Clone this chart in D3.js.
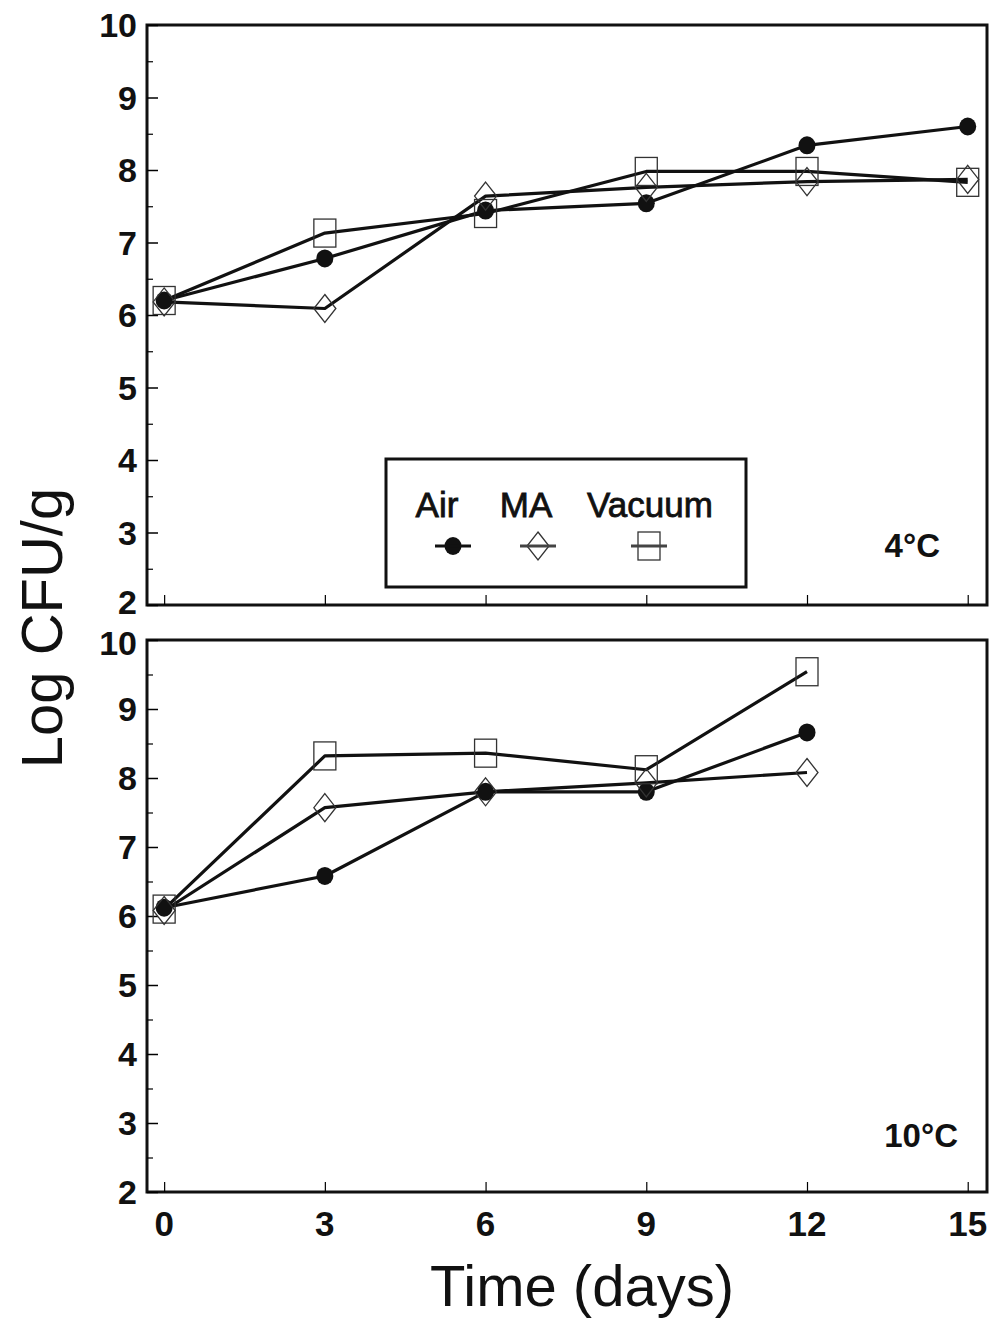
<!DOCTYPE html>
<html>
  <head>
    <meta charset="utf-8">
    <title>Log CFU/g over storage time</title>
    <style type="text/css">
      body { margin: 0; background: #fff; }
      svg text { font-family: "Liberation Sans", Arial, sans-serif; fill: #111; }
    </style>
  </head>
  <body>
    <div id="chart"></div>
    <script src="https://d3js.org/d3.v7.min.js"></script>
    <script>

    // storage days
    var days = [0, 3, 6, 9, 12, 15];
    var xTicks = [0, 3, 6, 9, 12, 15];
    var yTicks = [2, 3, 4, 5, 6, 7, 8, 9, 10];

    // 4 C panel
    var air4 = [6.20, 6.78, 7.44, 7.54, 8.34, 8.60];
    var ma4 = [6.18, 6.09, 7.64, 7.76, 7.84, 7.87];
    var vac4 = [6.20, 7.13, 7.40, 7.98, 7.98, 7.83];

    // 10 C panel (no day 15)
    var air10 = [6.12, 6.58, 7.80, 7.80, 8.66];
    var ma10 = [6.08, 7.57, 7.80, 7.93, 8.08];
    var vac10 = [6.10, 8.32, 8.36, 8.12, 9.54];

    var seriesNames = ["Air", "MA", "Vacuum"];
    var panelLabels = ["4°C", "10°C"];

    var width = 992, height = 1320;
    var left = 147, right = 987;

    var svg = d3.select("#chart").append("svg")
      .attr("width", width)
      .attr("height", height);

    var x = d3.scaleLinear().domain([-0.32, 15.36]).range([left, right]);

    var panels = [
      { top: 25, bottom: 605, label: panelLabels[0], labelX: 940, labelY: 545,
        series: [air4, ma4, vac4], showX: false, nudge: { 2: -3 } },
      { top: 640, bottom: 1192, label: panelLabels[1], labelX: 958, labelY: 1135,
        series: [air10, ma10, vac10], showX: true, nudge: { 10: 3 } }
    ];

    function drawMarker(g, type, cx, cy) {
      if (type == 0) {
        g.append("ellipse").attr("cx", cx).attr("cy", cy)
          .attr("rx", 8.5).attr("ry", 9)
          .style("fill", "#111");
      } else if (type == 1) {
        g.append("path")
          .attr("d", "M" + cx + "," + (cy - 14) + "L" + (cx + 11) + "," + cy +
                     "L" + cx + "," + (cy + 14) + "L" + (cx - 11) + "," + cy + "Z")
          .style("fill", "none").style("stroke", "#333").style("stroke-width", 1.3);
      } else {
        g.append("rect").attr("x", cx - 11).attr("y", cy - 14)
          .attr("width", 22).attr("height", 28)
          .style("fill", "none").style("stroke", "#333").style("stroke-width", 1.3);
      }
    }

    panels.forEach(function(p) {
      var y = d3.scaleLinear().domain([2, 10]).range([p.bottom, p.top]);
      var g = svg.append("g");

      // frame
      g.append("rect")
        .attr("x", left).attr("y", p.top)
        .attr("width", right - left).attr("height", p.bottom - p.top)
        .style("fill", "none").style("stroke", "#111").style("stroke-width", 3);

      // y axis, ticks pointing inward
      var yAxis = d3.axisRight(y).tickValues(yTicks).tickSize(11).tickFormat("");
      g.append("g").attr("transform", "translate(" + left + ",0)").call(yAxis)
        .call(function(s) { s.select(".domain").remove(); s.selectAll("line").style("stroke-width", 1.5); });
      var yMinor = d3.axisRight(y).tickValues(d3.range(2.5, 10, 1)).tickSize(6).tickFormat("");
      g.append("g").attr("transform", "translate(" + left + ",0)").call(yMinor)
        .call(function(s) { s.select(".domain").remove(); s.selectAll("line").style("stroke-width", 1.2); });

      g.selectAll(".ylab").data(yTicks).enter().append("text")
        .attr("x", 137).attr("y", function(d) { return y(d) + (p.nudge[d] || 0); })
        .attr("dy", "0.36em")
        .attr("text-anchor", "end")
        .style("font-size", "34px").style("font-weight", "bold")
        .text(function(d) { return d; });

      // x axis, ticks pointing up
      var xAxis = d3.axisTop(x).tickValues(xTicks).tickSize(10).tickFormat("");
      g.append("g").attr("transform", "translate(0," + p.bottom + ")").call(xAxis)
        .call(function(s) { s.select(".domain").remove(); s.selectAll("line").style("stroke-width", 1.2); });

      if (p.showX) {
        g.selectAll(".xlab").data(xTicks).enter().append("text")
          .attr("x", function(d) { return x(d); })
          .attr("y", 1236)
          .attr("text-anchor", "middle")
          .style("font-size", "35px").style("font-weight", "bold")
          .text(function(d) { return d; });
      }

      var line = d3.line()
        .x(function(d, i) { return x(days[i]); })
        .y(function(d) { return y(d); });

      p.series.forEach(function(vals, k) {
        g.append("path").datum(vals)
          .attr("d", line)
          .style("fill", "none").style("stroke", "#111")
          .style("stroke-width", 3.2).style("stroke-linejoin", "round");
      });
      p.series.forEach(function(vals, k) {
        vals.forEach(function(v, i) { drawMarker(g, k, x(days[i]), y(v)); });
      });

      g.append("text")
        .attr("x", p.labelX).attr("y", p.labelY).attr("dy", "0.36em")
        .attr("text-anchor", "end")
        .style("font-size", "33px").style("font-weight", "bold")
        .text(p.label);
    });

    // legend in top panel
    var leg = svg.append("g");
    leg.append("rect").attr("x", 386).attr("y", 459).attr("width", 360).attr("height", 128)
      .style("fill", "#fff").style("stroke", "#111").style("stroke-width", 3);
    var legX = [437, 526, 650];
    var symX = [453, 538, 649];
    seriesNames.forEach(function(name, k) {
      leg.append("text").attr("x", legX[k]).attr("y", 517)
        .attr("text-anchor", "middle")
        .style("font-size", "35px")
        .style("stroke", "#111").style("stroke-width", 0.8)
        .text(name);
      drawMarker(leg, k, symX[k], 546);
      leg.append("line")
        .attr("x1", symX[k] - 18).attr("x2", symX[k] + 18)
        .attr("y1", 546).attr("y2", 546)
        .style("stroke", k == 0 ? "#111" : "#444").style("stroke-width", 3);
    });

    // axis titles
    svg.append("text")
      .attr("x", 582).attr("y", 1306)
      .attr("text-anchor", "middle")
      .style("font-size", "58px")
      .text("Time (days)");

    svg.append("text")
      .attr("transform", "translate(62,628) rotate(-90)")
      .attr("text-anchor", "middle")
      .style("font-size", "58px")
      .text("Log CFU/g");

    </script>
  </body>
</html>
